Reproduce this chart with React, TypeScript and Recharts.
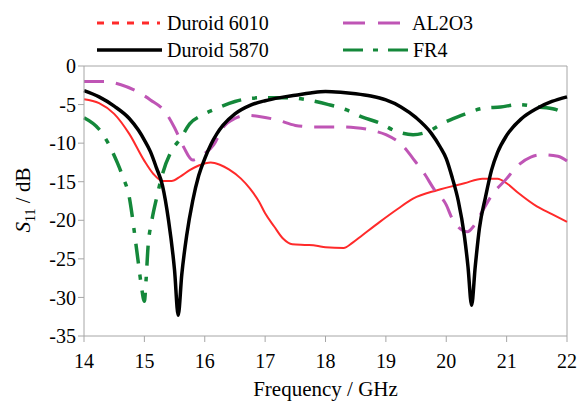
import { Line, LineChart, ReferenceLine, XAxis, YAxis } from "recharts"

// Duroid 6010
const f6010 = [14.0, 14.25, 14.5, 14.75, 15.0, 15.15, 15.3, 15.45, 15.6, 15.75, 15.9, 16.1, 16.25, 16.4, 16.6, 16.75, 16.9, 17.0, 17.15, 17.3, 17.45, 17.7, 17.85, 18.0, 18.3, 18.45, 18.6, 18.9, 19.2, 19.45, 19.85, 20.3, 20.6, 20.85, 21.0, 21.2, 21.5, 21.75, 22.0]
const s6010 = [-4.3, -4.8, -6.2, -8.8, -12.3, -14.0, -14.9, -14.9, -14.3, -13.5, -12.9, -12.5, -12.8, -13.4, -14.6, -15.9, -17.6, -19.1, -20.8, -22.4, -23.1, -23.2, -23.3, -23.5, -23.6, -22.9, -22.0, -20.2, -18.5, -17.2, -16.1, -15.2, -14.6, -14.6, -15.2, -16.5, -18.2, -19.2, -20.2]

// Duroid 5870
const f5870 = [14.0, 14.25, 14.5, 14.75, 14.9, 15.0, 15.1, 15.2, 15.3, 15.4, 15.5, 15.56, 15.62, 15.7, 15.8, 15.9, 16.0, 16.1, 16.2, 16.3, 16.5, 16.75, 17.0, 17.25, 17.5, 17.75, 18.0, 18.25, 18.5, 18.75, 19.0, 19.25, 19.5, 19.75, 19.9, 20.0, 20.1, 20.2, 20.3, 20.36, 20.42, 20.48, 20.55, 20.65, 20.75, 20.85, 21.0, 21.25, 21.5, 21.75, 22.0]
const s5870 = [-3.2, -4.0, -5.2, -6.8, -8.3, -9.6, -11.1, -13.2, -15.5, -20, -26.5, -32.3, -27, -22, -17.5, -14.2, -12.0, -10.2, -8.8, -7.7, -6.2, -5.1, -4.5, -4.1, -3.8, -3.5, -3.3, -3.4, -3.6, -3.9, -4.4, -5.3, -6.7, -8.7, -10.5, -12, -14.5, -17.5, -22, -26, -31, -26, -21, -17, -13.5, -11.2, -9.0, -6.8, -5.5, -4.6, -4.0]

// AL2O3
const fAl = [14.0, 14.35, 14.6, 14.9, 15.1, 15.35, 15.5, 15.65, 15.8, 15.95, 16.15, 16.3, 16.5, 16.7, 16.95, 17.2, 17.5, 17.8, 18.2, 18.5, 18.8, 19.0, 19.3, 19.45, 19.65, 19.8, 20.0, 20.1, 20.35, 20.45, 20.6, 20.75, 21.0, 21.15, 21.4, 21.6, 21.85, 22.0]
const sAl = [-2.0, -2.0, -2.4, -3.4, -4.4, -6.0, -8.0, -10.5, -12.2, -11.6, -10.2, -8.0, -6.8, -6.4, -6.6, -7.0, -7.7, -7.9, -7.9, -8.0, -8.4, -8.9, -10.5, -12.0, -14.1, -16.0, -18.0, -19.8, -21.5, -20.8, -18.8, -16.8, -14.6, -13.2, -11.8, -11.5, -11.7, -12.3]

// FR4
const fFr = [14.0, 14.25, 14.4, 14.55, 14.65, 14.75, 14.8, 14.85, 14.9, 14.95, 15.0, 15.03, 15.06, 15.12, 15.2, 15.3, 15.45, 15.6, 15.75, 15.95, 16.2, 16.5, 16.75, 17.0, 17.4, 17.7, 18.05, 18.35, 18.6, 18.9, 19.15, 19.45, 19.7, 19.95, 20.25, 20.6, 20.9, 21.2, 21.5, 21.8, 22.0]
const sFr = [-6.7, -8.2, -10.0, -12.5, -14.5, -17.0, -19.5, -22.5, -25.5, -28.5, -30.5, -27.5, -23.5, -20.2, -17.2, -14.0, -11.0, -9.4, -7.5, -6.4, -5.5, -4.6, -4.2, -4.1, -4.1, -4.4, -5.0, -5.7, -6.6, -7.4, -8.4, -8.9, -8.5, -7.4, -6.4, -5.5, -5.3, -5.0, -5.3, -5.6, -6.4]

const xTicks = [14, 15, 16, 17, 18, 19, 20, 21, 22]
const yTicks = [0, -5, -10, -15, -20, -25, -30, -35]

const toRows = (f: number[], s: number[]) => f.map((x, i) => ({ f: x, v: s[i] }))

const FONT = "Liberation Serif, DejaVu Serif, serif"
const AXIS = "#a6a6a6"
const RED = "#ff2a2a"
const MAGENTA = "#bf55b5"
const GREEN = "#14883a"

function XLabel(props: any) {
  const { x, y, width, height } = props.viewBox
  return (
    <text x={x + width / 2} y={y + height - 7} textAnchor="middle" fontSize={21} style={{ fontFamily: FONT }} fill="#000">
      Frequency / GHz
    </text>
  )
}

function YLabel() {
  return (
    <text transform="translate(30,200) rotate(-90)" textAnchor="middle" fontSize={21} style={{ fontFamily: FONT }} fill="#000">
      <tspan fontStyle="italic">S</tspan>
      <tspan fontSize={14} dy={5}>11</tspan>
      <tspan dy={-5}> / dB</tspan>
    </text>
  )
}

function LegendBox() {
  return (
    <svg width={580} height={62} style={{ position: "absolute", left: 0, top: 0, fontFamily: FONT }} fontSize={20}>
      <line x1={97} x2={160} y1={23} y2={23} stroke={RED} strokeWidth={3} strokeDasharray="7 8" />
      <text x={167} y={30} fill="#000">Duroid 6010</text>
      <line x1={97} x2={162} y1={50} y2={50} stroke="#000" strokeWidth={3.5} />
      <text x={167} y={57} fill="#000">Duroid 5870</text>
      <line x1={343} x2={400} y1={23} y2={23} stroke={MAGENTA} strokeWidth={3} strokeDasharray="22 13" />
      <text x={412} y={30} fill="#000">AL2O3</text>
      <line x1={343} x2={408} y1={50} y2={50} stroke={GREEN} strokeWidth={3} strokeDasharray="20 10 5 10" />
      <text x={413} y={57} fill="#000">FR4</text>
    </svg>
  )
}

export default function App() {
  return (
    <div style={{ position: "absolute", left: 0, top: 0, width: 580, height: 403, background: "#fff", fontFamily: FONT }}>
      <LineChart width={580} height={403} margin={{ top: 66, right: 13, bottom: 0, left: 0 }} style={{ fontFamily: FONT }}>
        <XAxis
          dataKey="f"
          type="number"
          domain={[14, 22]}
          ticks={xTicks}
          allowDuplicatedCategory={false}
          height={67}
          stroke={AXIS}
          tickSize={6}
          tickMargin={12}
          tick={{ fill: "#000", fontSize: 20, style: { fontFamily: FONT } }}
          label={<XLabel />}
        />
        <YAxis
          type="number"
          domain={[-35, 0]}
          ticks={yTicks}
          width={84}
          stroke={AXIS}
          tickSize={6}
          tickMargin={2}
          tick={{ fill: "#000", fontSize: 20, style: { fontFamily: FONT } }}
          label={<YLabel />}
        />
        <ReferenceLine y={0} stroke={AXIS} />
        <ReferenceLine x={22} stroke={AXIS} />
        <Line data={toRows(f6010, s6010)} dataKey="v" type="monotone" stroke={RED} strokeWidth={2} dot={false} isAnimationActive={false} />
        <Line data={toRows(fAl, sAl)} dataKey="v" type="monotone" stroke={MAGENTA} strokeWidth={3} strokeDasharray="20 12" dot={false} isAnimationActive={false} />
        <Line data={toRows(fFr, sFr)} dataKey="v" type="monotone" stroke={GREEN} strokeWidth={3.5} strokeDasharray="20 11 5 11" dot={false} isAnimationActive={false} />
        <Line data={toRows(f5870, s5870)} dataKey="v" type="monotone" stroke="#000" strokeWidth={3.5} dot={false} isAnimationActive={false} />
      </LineChart>
      <LegendBox />
    </div>
  )
}
